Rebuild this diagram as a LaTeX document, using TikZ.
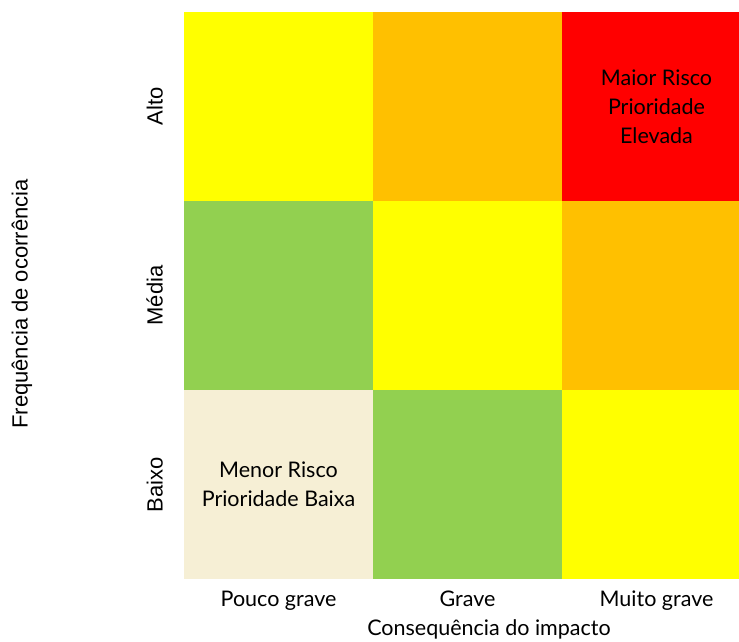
\documentclass[tikz,border=0pt]{standalone}
\usepackage{fontspec}
\setmainfont{Lato}
\newfontfamily\arialfont{Liberation Sans}
\usepackage{xcolor}
\usetikzlibrary{positioning}

\definecolor{riskyellow}{HTML}{FFFF00}
\definecolor{riskorange}{HTML}{FFC000}
\definecolor{riskred}{HTML}{FF0000}
\definecolor{riskgreen}{HTML}{92D050}
\definecolor{riskcream}{HTML}{F6EFD5}

\begin{document}
\begin{tikzpicture}[
  x=1pt, y=-1pt,
  node distance = 0pt and 0pt,
  cell/.style  = {fill=#1, draw=none, minimum width=189pt, minimum height=189pt,
                  inner sep=0pt, outer sep=0pt, align=center,
                  font=\fontsize{21.5}{29}\selectfont},
  cell/.default = white,
  axlbl/.style = {font=\fontsize{21.5}{24}\selectfont, inner sep=0pt},
  rowlbl/.style = {font=\arialfont\fontsize{22}{24}\selectfont, inner sep=0pt,
                   rotate=90, anchor=south},
]

\clip (0,0) rectangle (739,641);

%% -- TOP ROW (Alto) ------------------------------------------------------
\node[cell=riskyellow, anchor=north west] (c11) at (184,12) {};
\node[cell=riskorange, right=of c11] (c12) {};
\node[cell=riskred,    right=of c12] (c13) {Maior Risco\\Prioridade\\Elevada};

%% -- MIDDLE ROW (Media) --------------------------------------------------
\node[cell=riskgreen,  below=of c11] (c21) {};
\node[cell=riskyellow, right=of c21] (c22) {};
\node[cell=riskorange, right=of c22] (c23) {};

%% -- BOTTOM ROW (Baixo) --------------------------------------------------
\node[cell=riskcream,  below=of c21] (c31) {Menor Risco\\Prioridade Baixa};
\node[cell=riskgreen,  right=of c31] (c32) {};
\node[cell=riskyellow, right=of c32] (c33) {};

%% -- COLUMN LABELS -------------------------------------------------------
\node[axlbl, below=12pt of c31] (pouco) {Pouco grave};
\node[axlbl, below=12pt of c32] (grave) {Grave};
\node[axlbl, below=12pt of c33] (muito) {Muito grave};
\node[axlbl, anchor=base] (impacto) at (489,635) {Consequência do impacto};

%% -- ROW LABELS ----------------------------------------------------------
\node[left=21pt of c11, rowlbl] (alto)  {Alto};
\node[left=21pt of c21, rowlbl] (media) {Média};
\node[left=21pt of c31, rowlbl] (baixo) {Baixo};
\node[rowlbl, anchor=center] (freq) at (22,304) {Frequência de ocorrência};

\end{tikzpicture}
\end{document}
